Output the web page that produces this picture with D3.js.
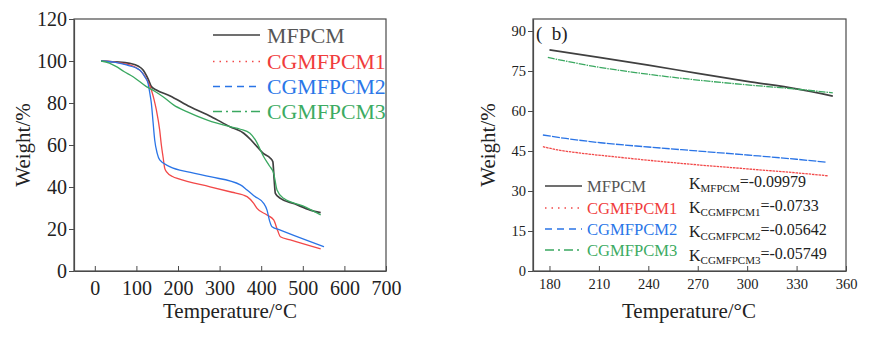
<!DOCTYPE html>
<html>
<head>
<meta charset="utf-8">
<script src="https://cdn.jsdelivr.net/npm/d3@7"></script>
<style>
  body { margin: 0; background: #fff; }
  svg text { font-family: "Liberation Serif", "Times New Roman", serif; }
</style>
</head>
<body>
<div class="chart"></div>
<script>
// series names
const seriesNames = ['MFPCM', 'CGMFPCM1', 'CGMFPCM2', 'CGMFPCM3'];

// (a) full TG curves, [temperature, weight]
const tgMFPCM = [[15,100],[50,99.6],[84,98.9],[105,97.5],[116,95.7],[128,91.5],[136,87.8],[148,86.2],[180,83.5],[229,78.2],[280,73.5],[325,68.7],[358,65.6],[375,62.5],[390,59.2],[405,56],[422,53.7],[428,52],[431,44],[434,37],[446,34.6],[480,32],[518,29],[543,27.8]];
const tgCG1 = [[15,100],[50,99.4],[84,98.1],[100,96.8],[116,94],[128,90],[136,86.2],[142,82],[148,76.7],[156,67.1],[160,60],[164,54.4],[168,49],[172,47.3],[188,44.9],[200,44],[277,40.1],[330,37.5],[357,36.2],[366,35.4],[382,32.2],[390,29.8],[414,26.7],[430,24.3],[440,19],[446,16.3],[470,14.8],[543,10.5]];
const tgCG2 = [[15,100],[50,99.3],[76,98.1],[108,95.7],[120,92.5],[128,89.4],[132,85],[136,79.8],[140,71],[144,62.4],[150,56],[156,52.9],[180,49.7],[230,47],[277,44.9],[350,41],[366,38.6],[385,35.5],[406,32.2],[414,29],[420,24],[426,21.1],[446,19.5],[518,14],[551,11.6]];
const tgCG3 = [[15,100],[35,99],[52,97.3],[70,95],[92,92.5],[124,87.8],[145,85.5],[164,83],[190,79],[221,75.9],[269,72],[325,68.7],[350,67.5],[373,65.6],[386,62.4],[406,54.4],[420,50],[430,46.5],[438,38.6],[454,34.6],[500,31],[543,26.7]];

// (b) zoomed section 180-350 C
const segMFPCM = [[180,82.9],[210,80.1],[240,77.2],[270,74.1],[300,71.1],[330,68.3],[352,65.6]];
const segCG1 = [[176,46.6],[185,45.4],[199,44.2],[220,42.8],[247,41.1],[270,39.8],[300,38.3],[330,36.8],[349,35.7]];
const segCG2 = [[176,51],[190,49.7],[211,48.1],[240,46.5],[270,45],[300,43.5],[330,41.9],[348,40.8]];
const segCG3 = [[179,80.1],[190,78.7],[207,76.7],[230,74.6],[250,73],[270,71.6],[300,69.8],[330,68.2],[352,66.8]];

// slopes
const slopeLabels = ['MFPCM', 'CGMFPCM1', 'CGMFPCM2', 'CGMFPCM3'];
const slopeValues = ['-0.09979', '-0.0733', '-0.05642', '-0.05749'];

// ticks
const ticksAx = [0, 100, 200, 300, 400, 500, 600, 700];
const ticksAy = [0, 20, 40, 60, 80, 100, 120];
const ticksBx = [180, 210, 240, 270, 300, 330, 360];
const ticksBy = [0, 15, 30, 45, 60, 75, 90];

const lineColors = ['#404040', '#f24848', '#2a74e6', '#3aa860'];
const textColors = ['#555555', '#f03c3c', '#2a76e8', '#3cab62'];
const legendDash = [null, '1.5,5', '7,5', '9,4,2,4'];

const svg = d3.select('.chart')
  .append('svg')
    .attr('width', 881)
    .attr('height', 337);

function drawPanel(opts) {
  const { left, right, top, bottom, xDomain, yDomain, xTicks, yTicks, tickFont, series, dashes, strokeW } = opts;
  const x = d3.scaleLinear().domain(xDomain).range([left, right]);
  const y = d3.scaleLinear().domain(yDomain).range([bottom, top]);

  // frame
  svg.append('rect')
    .attr('x', left).attr('y', top)
    .attr('width', right - left).attr('height', bottom - top)
    .attr('fill', 'none').attr('stroke', '#4a4a4a').attr('stroke-width', 1.2);

  const xAxis = svg.append('g')
    .attr('transform', `translate(0,${bottom})`)
    .call(d3.axisBottom(x).tickValues(xTicks).tickSizeInner(-5).tickSizeOuter(0).tickPadding(opts.xPad));
  const yAxis = svg.append('g')
    .attr('transform', `translate(${left},0)`)
    .call(d3.axisLeft(y).tickValues(yTicks).tickSizeInner(5).tickSizeOuter(0).tickPadding(opts.yPad));
  [xAxis, yAxis].forEach(a => {
    a.select('.domain').attr('stroke', '#4a4a4a').attr('stroke-width', 1.2);
    a.selectAll('.tick line').attr('stroke', '#4a4a4a').attr('stroke-width', 1);
    a.selectAll('.tick text')
      .attr('fill', '#222')
      .style('font-family', '"Liberation Serif", serif')
      .style('font-size', tickFont + 'px');
  });

  const line = d3.line()
    .x(d => x(d[0]))
    .y(d => y(d[1]))
    .curve(d3.curveMonotoneX);

  series.forEach((s, i) => {
    svg.append('path')
      .datum(s)
      .attr('d', line)
      .attr('fill', 'none')
      .attr('stroke', lineColors[i])
      .attr('stroke-width', i === 0 ? strokeW + 0.4 : strokeW)
      .attr('stroke-dasharray', dashes ? dashes[i] : null);
  });

  return { x, y };
}

// panel (a)
drawPanel({
  left: 74, right: 386, top: 19, bottom: 271,
  xDomain: [-50, 700], yDomain: [0, 120],
  xTicks: ticksAx, yTicks: ticksAy, tickFont: 20, xPad: 10, yPad: 2,
  series: [tgMFPCM, tgCG1, tgCG2, tgCG3], dashes: null, strokeW: 1.3
});

// panel (b)
drawPanel({
  left: 533, right: 846, top: 19, bottom: 271,
  xDomain: [170, 360], yDomain: [0, 94.5],
  xTicks: ticksBx, yTicks: ticksBy, tickFont: 14.5, xPad: 8, yPad: 2,
  series: [segMFPCM, segCG1, segCG2, segCG3],
  dashes: [null, '2.5,0.8', '8,1.2', '7,1,1.5,1'], strokeW: 1.3
});

// axis titles
function axisTitles(cx, yLabelX) {
  svg.append('text')
    .attr('x', cx).attr('y', 318)
    .attr('text-anchor', 'middle')
    .style('font-size', '21px').attr('fill', '#222')
    .text('Temperature/°C');
  svg.append('text')
    .attr('transform', `translate(${yLabelX},145) rotate(-90)`)
    .attr('text-anchor', 'middle')
    .style('font-size', '21px').attr('fill', '#222')
    .text('Weight/%');
}
axisTitles(230, 30);
axisTitles(689, 495);

// legends
function legend(x0, x1, tx, ys, fontSize, width) {
  seriesNames.forEach((name, i) => {
    svg.append('line')
      .attr('x1', x0).attr('x2', x1)
      .attr('y1', ys[i]).attr('y2', ys[i])
      .attr('stroke', lineColors[i])
      .attr('stroke-width', width)
      .attr('stroke-dasharray', legendDash[i]);
    svg.append('text')
      .attr('x', tx).attr('y', ys[i])
      .attr('dy', '0.35em')
      .style('font-size', fontSize + 'px')
      .attr('fill', textColors[i])
      .text(name);
  });
}
legend(213, 260, 267, [35, 61.5, 86.5, 111.5], 21.8, 1.6);
legend(545, 582, 587, [186, 208, 229, 250], 16.6, 1.6);

// slope annotations
const kRows = [183, 207, 231, 255];
slopeLabels.forEach((lab, i) => {
  const t = svg.append('text')
    .attr('x', 689).attr('y', kRows[i])
    .attr('dy', '0.35em')
    .style('font-size', '16px').attr('fill', '#222');
  t.append('tspan').text('K');
  t.append('tspan').attr('dy', '0.35em').style('font-size', '11px').text(lab);
  t.append('tspan').attr('dy', '-0.35em').text('=' + slopeValues[i]);
});

// panel label
svg.append('text')
  .attr('x', 536).attr('y', 33)
  .attr('dy', '0.35em')
  .style('font-size', '19px').style('white-space', 'pre').attr('fill', '#222')
  .text('(  b)');
</script>
</body>
</html>
